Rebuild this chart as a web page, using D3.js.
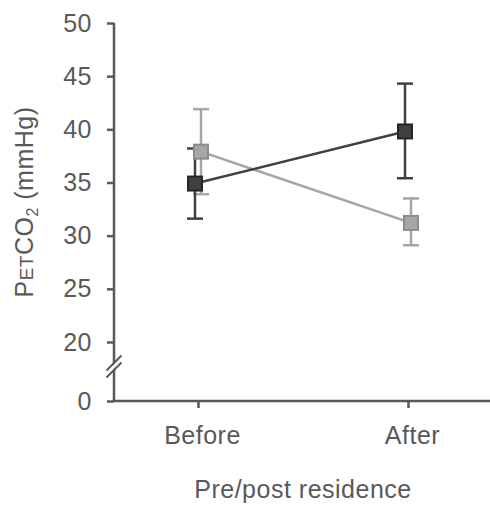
<!DOCTYPE html>
<html>
<head>
<meta charset="utf-8">
<script src="https://cdn.jsdelivr.net/npm/d3@7.9.0/dist/d3.min.js"></script>
<style>
  body { margin: 0; background: #fff; }
  svg { display: block; font-family: "Liberation Sans", Arial, sans-serif; }
</style>
</head>
<body>
<div id="chart"></div>
<script>
// data
const categories = ["Before", "After"];
const yTicks = [0, 20, 25, 30, 35, 40, 45, 50];

const darkMean = [34.9, 39.8];
const darkLow = [31.6, 35.4];
const darkHigh = [38.2, 44.3];

const grayMean = [37.9, 31.2];
const grayLow = [33.9, 29.1];
const grayHigh = [41.9, 33.5];

const width = 490;
const height = 512;
const axisColor = "#595959";
const fontSize = 25;
const spacing = 0.5;

const svg = d3.select("#chart")
  .append("svg")
  .attr("width", width)
  .attr("height", height);

// broken y axis: 0 .. 20 squeezed, 20 .. 50 linear
const y = d3.scaleLinear()
  .domain([0, 20, 50])
  .range([401, 342, 23]);

const x = d3.scalePoint()
  .domain(categories)
  .range([198, 408]);

const axisX = 114;

function styleText(sel) {
  sel.attr("fill", axisColor)
    .attr("font-size", fontSize)
    .attr("letter-spacing", spacing)
    .attr("font-family", "Liberation Sans, Arial, sans-serif");
}

// y axis
const gy = svg.append("g")
  .attr("transform", `translate(${axisX},0)`)
  .call(d3.axisLeft(y).tickValues(yTicks).tickSize(7).tickPadding(15).tickFormat(d3.format("d")));
gy.select(".domain").remove();
gy.selectAll(".tick line").attr("stroke", axisColor).attr("stroke-width", 2.5);
gy.selectAll(".tick text").call(styleText);
gy.append("line")
  .attr("y1", y(50)).attr("y2", y(0))
  .attr("stroke", axisColor).attr("stroke-width", 2.5);

// x axis
const gx = svg.append("g")
  .attr("transform", `translate(0,${y(0)})`)
  .call(d3.axisBottom(x).tickSize(7).tickPadding(18));
gx.select(".domain").remove();
gx.selectAll(".tick line").attr("stroke", axisColor).attr("stroke-width", 2.5);
gx.selectAll(".tick text").call(styleText).attr("dx", 4);
gx.append("line")
  .attr("x1", axisX - 1.25).attr("x2", width)
  .attr("stroke", axisColor).attr("stroke-width", 2.5);

// axis break marks
const by = 366.5;
svg.append("path")
  .attr("d", `M${axisX - 4},${by + 2} L${axisX + 4},${by - 6} L${axisX + 4},${by - 2} L${axisX - 4},${by + 6} Z`)
  .attr("fill", "#fff");
[-3.5, 3.5].forEach(o => {
  svg.append("line")
    .attr("x1", axisX - 7.5).attr("y1", by + 7.5 + o)
    .attr("x2", axisX + 7.5).attr("y2", by - 7.5 + o)
    .attr("stroke", axisColor).attr("stroke-width", 2);
});

// series
const series = [
  { mean: grayMean, low: grayLow, high: grayHigh, dx: 3, line: "#a6a6a6", fill: "#a6a6a6", stroke: "#8c8c8c", cap: 16 },
  { mean: darkMean, low: darkLow, high: darkHigh, dx: -3, line: "#404040", fill: "#404040", stroke: "#262626", cap: 16 },
];

// error bars first
series.forEach(s => {
  const g = svg.append("g").attr("stroke", s.line).attr("stroke-width", 2.5);
  categories.forEach((c, i) => {
    const cx = x(c) + s.dx;
    g.append("line").attr("x1", cx).attr("x2", cx).attr("y1", y(s.low[i])).attr("y2", y(s.high[i]));
    g.append("line").attr("x1", cx - s.cap / 2).attr("x2", cx + s.cap / 2).attr("y1", y(s.low[i])).attr("y2", y(s.low[i]));
    g.append("line").attr("x1", cx - s.cap / 2).attr("x2", cx + s.cap / 2).attr("y1", y(s.high[i])).attr("y2", y(s.high[i]));
  });
});

// lines
series.forEach(s => {
  svg.append("path")
    .datum(s.mean)
    .attr("fill", "none")
    .attr("stroke", s.line)
    .attr("stroke-width", 2.5)
    .attr("d", d3.line().x((d, i) => x(categories[i]) + s.dx).y(d => y(d)));
});

// markers
series.forEach(s => {
  svg.append("g")
    .selectAll("rect")
    .data(s.mean)
    .join("rect")
    .attr("x", (d, i) => x(categories[i]) + s.dx - 7)
    .attr("y", d => y(d) - 7)
    .attr("width", 14)
    .attr("height", 14)
    .attr("fill", s.fill)
    .attr("stroke", s.stroke)
    .attr("stroke-width", 2);
});

// axis titles
svg.append("text")
  .attr("x", 303)
  .attr("y", 498)
  .attr("text-anchor", "middle")
  .call(styleText)
  .text("Pre/post residence");

const yt = svg.append("text")
  .attr("transform", `translate(33,202) rotate(-90)`)
  .attr("text-anchor", "middle")
  .call(styleText);
yt.append("tspan").text("P");
yt.append("tspan").attr("font-size", 19).text("ET");
yt.append("tspan").text("CO");
yt.append("tspan").attr("font-size", 16).attr("dy", 5).text("2");
yt.append("tspan").attr("dy", -5).text(" (mmHg)");
</script>
</body>
</html>
